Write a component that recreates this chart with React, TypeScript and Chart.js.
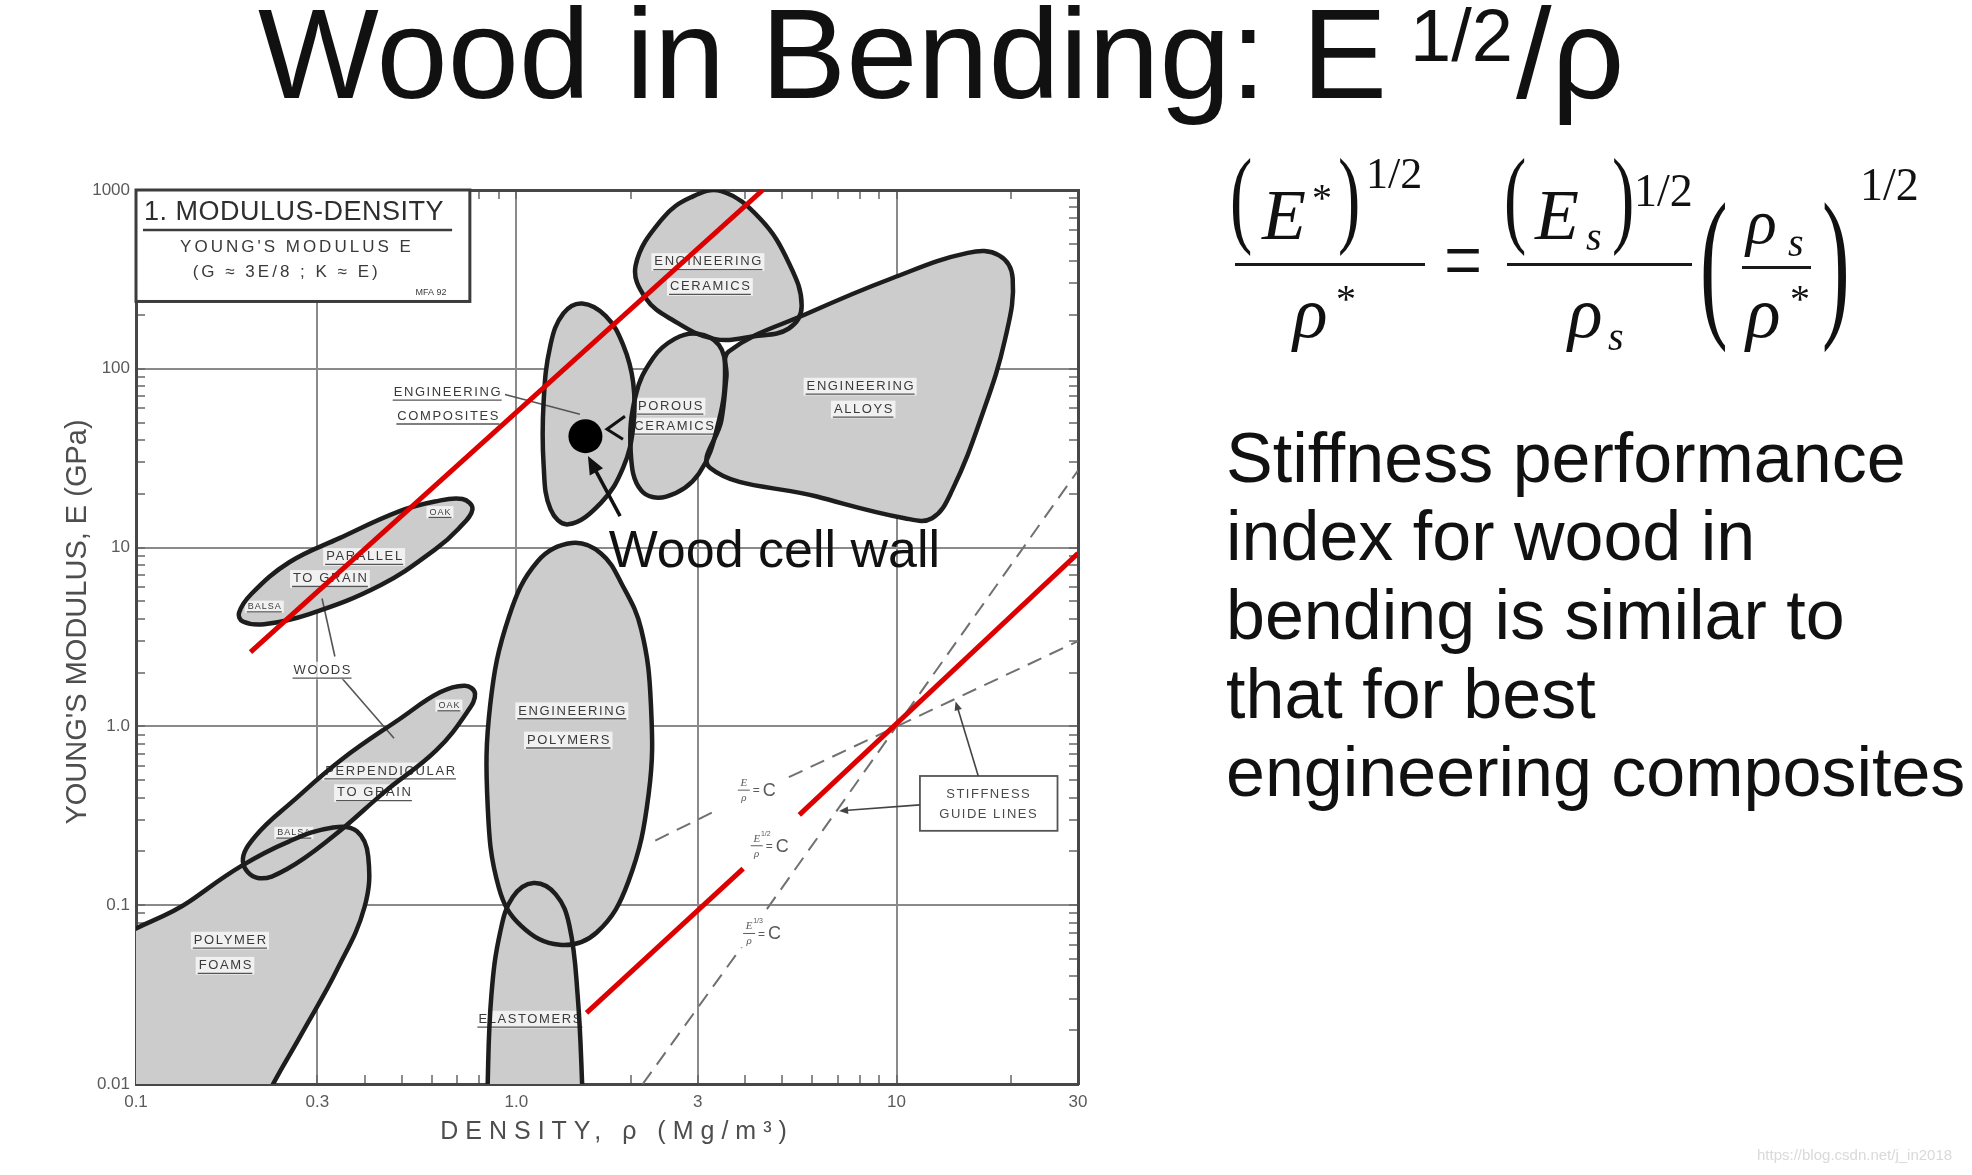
import React, { useEffect, useRef } from 'react';
import { Chart, registerables } from 'chart.js';

Chart.register(...registerables);

const W = 1972;
const H = 1175;
const SANS = '"Liberation Sans", Arial, Helvetica, sans-serif';
const SERIF = '"Liberation Serif", "Times New Roman", Times, serif';

// ---------------- axis ticks (density ρ in Mg/m³, Young's modulus E in GPa) ----------------
const xMajorTicks = [0.1, 0.3, 1, 3, 10, 30];
const xTickLabels = ['0.1', '0.3', '1.0', '3', '10', '30'];
const xGridValues = [0.3, 1, 3, 10];
const xMinorTicks = [0.2, 0.4, 0.5, 0.6, 0.7, 0.8, 0.9, 2, 4, 5, 6, 7, 8, 9, 20];

const yMajorTicks = [0.01, 0.1, 1, 10, 100, 1000];
const yTickLabels = ['0.01', '0.1', '1.0', '10', '100', '1000'];
const yGridValues = [0.1, 1, 10, 100];
const yMinorTicks = [
  0.02, 0.03, 0.04, 0.05, 0.06, 0.07, 0.08, 0.09,
  0.2, 0.3, 0.4, 0.5, 0.6, 0.7, 0.8, 0.9,
  2, 3, 4, 5, 6, 7, 8, 9,
  20, 30, 40, 50, 60, 70, 80, 90,
  200, 300, 400, 500, 600, 700, 800, 900,
];

// ---------------- material property regions: [density, modulus] ----------------
const engineeringAlloys = [
  [3.62, 125], [5.93, 207], [9.73, 321], [15.4, 445], [18.6, 431], [20.2, 321], [19.3, 147],
  [16.8, 55.5], [14.0, 20.9], [12.4, 14.6], [10.5, 14.6], [6.17, 19.3], [3.23, 28.0], [3.46, 51.2], [3.57, 90.4],
];
const engineeringCeramics = [
  [3.46, 985], [4.38, 690], [5.21, 391], [5.63, 225], [5.21, 168], [4.22, 152], [3.31, 147],
  [2.57, 188], [2.19, 248], [2.06, 378], [2.42, 690], [2.88, 910],
];
const porousCeramics = [
  [2.99, 157], [3.41, 136], [3.54, 98.1], [3.41, 51.2], [3.02, 25.9], [2.48, 19.3], [2.13, 20.9],
  [2.0, 34.1], [2.06, 70.8], [2.29, 115], [2.61, 147],
];
const engineeringComposites = [
  [1.49, 232], [1.72, 197], [1.91, 136], [2.03, 83.4], [2.03, 47.2], [1.91, 28.0], [1.67, 17.8],
  [1.37, 13.5], [1.23, 16.4], [1.18, 29.0], [1.18, 65.3], [1.23, 136], [1.33, 204],
];
const engineeringPolymers = [
  [1.4, 10.6], [1.67, 9.28], [1.9, 6.18], [2.13, 3.5], [2.26, 1.32], [2.23, 0.422], [1.97, 0.135],
  [1.63, 0.0706], [1.3, 0.06], [1.03, 0.0766], [0.9, 0.125], [0.841, 0.359], [0.854, 1.32], [0.957, 4.12], [1.14, 8.41],
];
const elastomers = [
  [1.11, 0.133], [1.27, 0.115], [1.38, 0.0766], [1.45, 0.0313], [1.49, 0.01], [1.5, 0.0052],
  [0.841, 0.0052], [0.841, 0.01], [0.86, 0.0313], [0.907, 0.0706], [0.979, 0.111],
];
const polymerFoams = [
  [0.0809, 0.0478], [0.1377, 0.1043], [0.188, 0.1644], [0.253, 0.2277], [0.33, 0.272], [0.381, 0.259],
  [0.408, 0.1874], [0.399, 0.0977], [0.3375, 0.0434], [0.273, 0.0192], [0.2206, 0.00853], [0.2013, 0.00524], [0.0809, 0.00524],
];
const woodsPerpendicular = [
  [0.191, 0.1756], [0.206, 0.243], [0.259, 0.383], [0.348, 0.655], [0.4936, 1.1], [0.63, 1.55], [0.733, 1.69],
  [0.779, 1.526], [0.745, 1.215], [0.6157, 0.734], [0.454, 0.436], [0.33, 0.243], [0.249, 0.159], [0.209, 0.142],
];
const woodsParallel = [
  [0.1866, 4.32], [0.2013, 5.52], [0.253, 8.28], [0.343, 11.3], [0.49, 15.9], [0.611, 18.1], [0.722, 18.7],
  [0.767, 16.4], [0.706, 12.8], [0.611, 9.74], [0.4406, 6.18], [0.2856, 4.25], [0.2173, 3.73], [0.191, 3.86],
];

// ---------------- performance-index lines ----------------
const redIndexUpper = [[0.2, 2.6], [4.45, 1000]];
const redIndexLowerA = [[1.53, 0.025], [3.95, 0.16]];
const redIndexLowerB = [[5.55, 0.32], [30, 9.3]];
const guideEoverRhoA = [[2.32, 0.23], [3.37, 0.34]];
const guideEoverRhoB = [[5.21, 0.52], [30, 3.0]];
const guideE13A = [[2.15, 0.01], [3.95, 0.06]];
const guideE13B = [[4.56, 0.095], [30, 27]];
const woodCellWall = [[1.52, 42]];

// ---------------- annotation anchors (data units) ----------------
const infoBox = [[0.1, 1000], [0.755, 238]];
const regionLabels = [
  { text: 'ENGINEERING', x: 3.19, y: 397 },
  { text: 'CERAMICS', x: 3.23, y: 288 },
  { text: 'ENGINEERING', x: 8.02, y: 79.8 },
  { text: 'ALLOYS', x: 8.17, y: 59.4 },
  { text: 'POROUS', x: 2.54, y: 61.7 },
  { text: 'CERAMICS', x: 2.6, y: 47.7 },
  { text: 'ENGINEERING', x: 0.658, y: 73.8 },
  { text: 'COMPOSITES', x: 0.661, y: 54.3 },
  { text: 'ENGINEERING', x: 1.4, y: 1.22 },
  { text: 'POLYMERS', x: 1.37, y: 0.837 },
  { text: 'ELASTOMERS', x: 1.086, y: 0.023 },
  { text: 'POLYMER', x: 0.1766, y: 0.0636 },
  { text: 'FOAMS', x: 0.1714, y: 0.046 },
  { text: 'WOODS', x: 0.3085, y: 2.06 },
  { text: 'PARALLEL', x: 0.398, y: 8.9 },
  { text: 'TO GRAIN', x: 0.3236, y: 6.7 },
  { text: 'PERPENDICULAR', x: 0.466, y: 0.562 },
  { text: 'TO GRAIN', x: 0.4225, y: 0.425 },
];
const smallLabels = [
  { text: 'BALSA', x: 0.2174, y: 4.68 },
  { text: 'OAK', x: 0.63, y: 15.8 },
  { text: 'OAK', x: 0.665, y: 1.31 },
  { text: 'BALSA', x: 0.26, y: 0.254 },
];
const leaderLines = [
  [[0.934, 71.9], [1.47, 55.7]],
  [[0.3334, 2.46], [0.3085, 5.19]],
  [[0.348, 1.86], [0.477, 0.859]],
];
const cellWallArrow = [[1.875, 15.0], [1.543, 32.5]];
const compositeChevron = [[1.931, 54.3], [1.732, 45.9], [1.908, 40.4]];
const stiffnessBox = [[11.52, 0.528], [26.5, 0.2606]];
const stiffnessArrows = [
  [[16.4, 0.528], [14.3, 1.38]],
  [[11.52, 0.364], [7.06, 0.3367]],
];
const guideLabels = [
  { exp: '', x: 4.29, y: 0.44 },
  { exp: '1/2', x: 4.64, y: 0.215 },
  { exp: '1/3', x: 4.43, y: 0.0695 },
];
const cellWallText = { text: 'Wood cell wall', x: 1.75, y: 7.8 };

const paragraphLines = [
  'Stiffness performance',
  'index for wood in',
  'bending is similar to',
  'that for best',
  'engineering composites',
];

const FILL = '#cbcccb';
const OUTLINE = '#1d1d1d';
const RED = '#dc0000';
const GUIDE = '#707070';
const GRID = '#8a8a8a';
const AXIS = '#474747';

const toXY = (pts: number[][]) => pts.map(([x, y]) => ({ x, y }));

const closedRegions = {
  id: 'closedRegions',
  afterDatasetsUpdate(chart: any) {
    chart.data.datasets.forEach((ds: any, i: number) => {
      if (!ds.closed) return;
      const line = chart.getDatasetMeta(i).dataset;
      if (!line) return;
      line._loop = true;
      line._fullLoop = true;
      delete line._segments;
      delete line._path;
      line._pointsUpdated = false;
    });
  },
};

function boxedLabel(ctx: any, text: string, x: number, y: number, size: number, spacing: number) {
  ctx.font = `${size}px ${SANS}`;
  ctx.letterSpacing = `${spacing}px`;
  const w = ctx.measureText(text).width - spacing;
  ctx.fillStyle = 'rgba(255,255,255,0.72)';
  ctx.fillRect(x - w / 2 - 3, y - size * 0.66, w + 6, size * 1.36);
  ctx.fillStyle = '#3a3a3a';
  ctx.textAlign = 'left';
  ctx.textBaseline = 'middle';
  ctx.fillText(text, x - w / 2, y);
  ctx.strokeStyle = '#555';
  ctx.lineWidth = 1.3;
  ctx.beginPath();
  ctx.moveTo(x - w / 2 - 1, y + size * 0.6);
  ctx.lineTo(x + w / 2 + 1, y + size * 0.6);
  ctx.stroke();
  ctx.letterSpacing = '0px';
}

function arrowLine(ctx: any, x1: number, y1: number, x2: number, y2: number, lw: number, head: number, color: string) {
  const a = Math.atan2(y2 - y1, x2 - x1);
  ctx.strokeStyle = color;
  ctx.fillStyle = color;
  ctx.lineWidth = lw;
  ctx.beginPath();
  ctx.moveTo(x1, y1);
  ctx.lineTo(x2 - Math.cos(a) * head * 0.6, y2 - Math.sin(a) * head * 0.6);
  ctx.stroke();
  ctx.beginPath();
  ctx.moveTo(x2, y2);
  ctx.lineTo(x2 - Math.cos(a) * head + Math.sin(a) * head * 0.42, y2 - Math.sin(a) * head - Math.cos(a) * head * 0.42);
  ctx.lineTo(x2 - Math.cos(a) * head - Math.sin(a) * head * 0.42, y2 - Math.sin(a) * head + Math.cos(a) * head * 0.42);
  ctx.closePath();
  ctx.fill();
}

const annotations = {
  id: 'ashbyAnnotations',
  beforeDatasetsDraw(chart: any) {
    const ctx = chart.ctx;
    const X = (v: number) => chart.scales.x.getPixelForValue(v);
    const Y = (v: number) => chart.scales.y.getPixelForValue(v);
    ctx.save();
    const bx1 = X(infoBox[0][0]);
    const by1 = Y(infoBox[0][1]);
    const bx2 = X(infoBox[1][0]);
    const by2 = Y(infoBox[1][1]);
    ctx.fillStyle = '#ffffff';
    ctx.fillRect(bx1, by1, bx2 - bx1, by2 - by1);
    ctx.strokeStyle = '#3c3c3c';
    ctx.lineWidth = 3;
    ctx.strokeRect(bx1, by1, bx2 - bx1, by2 - by1);
    ctx.fillStyle = '#2e2e2e';
    ctx.textBaseline = 'middle';
    ctx.textAlign = 'left';
    ctx.font = `27px ${SANS}`;
    ctx.letterSpacing = '0.5px';
    ctx.fillText('1. MODULUS-DENSITY', X(0.105), Y(745));
    ctx.lineWidth = 2.5;
    ctx.beginPath();
    ctx.moveTo(X(0.1043), Y(598));
    ctx.lineTo(X(0.678), Y(598));
    ctx.stroke();
    ctx.textAlign = 'center';
    ctx.font = `17px ${SANS}`;
    ctx.letterSpacing = '3px';
    ctx.fillStyle = '#3a3a3a';
    ctx.fillText("YOUNG'S MODULUS E", X(0.265), Y(475));
    ctx.fillText('(G ≈ 3E/8 ; K ≈ E)', X(0.249), Y(345));
    ctx.letterSpacing = '0px';
    ctx.font = `9px ${SANS}`;
    ctx.fillText('MFA 92', X(0.597), Y(267));

    ctx.strokeStyle = '#555';
    ctx.lineWidth = 1.6;
    leaderLines.forEach(([a, b]) => {
      ctx.beginPath();
      ctx.moveTo(X(a[0]), Y(a[1]));
      ctx.lineTo(X(b[0]), Y(b[1]));
      ctx.stroke();
    });
    regionLabels.forEach((l) => boxedLabel(ctx, l.text, X(l.x), Y(l.y), 13, 1.6));
    smallLabels.forEach((l) => boxedLabel(ctx, l.text, X(l.x), Y(l.y), 9, 1));
    ctx.restore();
  },
  afterDatasetsDraw(chart: any) {
    const ctx = chart.ctx;
    const X = (v: number) => chart.scales.x.getPixelForValue(v);
    const Y = (v: number) => chart.scales.y.getPixelForValue(v);
    ctx.save();
    const sx1 = X(stiffnessBox[0][0]);
    const sy1 = Y(stiffnessBox[0][1]);
    const sx2 = X(stiffnessBox[1][0]);
    const sy2 = Y(stiffnessBox[1][1]);
    ctx.fillStyle = '#fff';
    ctx.fillRect(sx1, sy1, sx2 - sx1, sy2 - sy1);
    ctx.strokeStyle = '#555';
    ctx.lineWidth = 1.8;
    ctx.strokeRect(sx1, sy1, sx2 - sx1, sy2 - sy1);
    ctx.fillStyle = '#4a4a4a';
    ctx.textAlign = 'center';
    ctx.textBaseline = 'middle';
    ctx.font = `13px ${SANS}`;
    ctx.letterSpacing = '1.5px';
    ctx.fillText('STIFFNESS', (sx1 + sx2) / 2, sy1 + (sy2 - sy1) * 0.33);
    ctx.fillText('GUIDE LINES', (sx1 + sx2) / 2, sy1 + (sy2 - sy1) * 0.7);
    ctx.letterSpacing = '0px';
    stiffnessArrows.forEach(([a, b]) => arrowLine(ctx, X(a[0]), Y(a[1]), X(b[0]), Y(b[1]), 1.6, 9, '#444'));

    guideLabels.forEach((g) => {
      const x = X(g.x);
      const y = Y(g.y);
      ctx.fillStyle = '#fff';
      ctx.fillRect(x - 24, y - 14, 50, 28);
      ctx.fillStyle = '#5a5a5a';
      ctx.strokeStyle = '#5a5a5a';
      ctx.textAlign = 'center';
      ctx.textBaseline = 'middle';
      ctx.font = `italic 11px ${SERIF}`;
      ctx.fillText('E', x - 13, y - 7);
      ctx.fillText('ρ', x - 13, y + 8);
      if (g.exp) {
        ctx.font = `7px ${SANS}`;
        ctx.fillText(g.exp, x - 4, y - 12);
      }
      ctx.lineWidth = 1;
      ctx.beginPath();
      ctx.moveTo(x - 19, y);
      ctx.lineTo(x - 7, y);
      ctx.stroke();
      ctx.textAlign = 'left';
      ctx.font = `12px ${SANS}`;
      ctx.fillText('=', x - 4, y + 1);
      ctx.font = `18px ${SANS}`;
      ctx.fillText('C', x + 6, y + 1);
    });

    arrowLine(ctx, X(cellWallArrow[0][0]), Y(cellWallArrow[0][1]), X(cellWallArrow[1][0]), Y(cellWallArrow[1][1]), 3.5, 18, '#111');
    ctx.strokeStyle = '#111';
    ctx.lineWidth = 3;
    ctx.beginPath();
    compositeChevron.forEach(([a, b], i) => (i ? ctx.lineTo(X(a), Y(b)) : ctx.moveTo(X(a), Y(b))));
    ctx.stroke();
    ctx.fillStyle = '#111';
    ctx.font = `52px ${SANS}`;
    ctx.textAlign = 'left';
    ctx.textBaseline = 'alphabetic';
    ctx.fillText(cellWallText.text, X(cellWallText.x), Y(cellWallText.y));
    ctx.restore();
  },
  afterDraw(chart: any) {
    const ctx = chart.ctx;
    const a = chart.chartArea;
    ctx.save();
    ctx.fillStyle = '#4e4e4e';
    ctx.textAlign = 'center';
    ctx.textBaseline = 'middle';
    ctx.font = `25px ${SANS}`;
    ctx.letterSpacing = '7px';
    ctx.fillText('DENSITY, ρ (Mg/m³)', (a.left + a.right) / 2 + 10, a.bottom + 48);
    ctx.letterSpacing = '0px';
    ctx.translate(a.left - 58, (a.top + a.bottom) / 2 - 15);
    ctx.rotate(-Math.PI / 2);
    ctx.font = `29px ${SANS}`;
    ctx.fillText("YOUNG'S MODULUS, E (GPa)", 0, 0);
    ctx.restore();
  },
};

function buildChart(canvas: HTMLCanvasElement) {
  const shapeStyle = {
    borderColor: OUTLINE,
    borderWidth: 4.5,
    backgroundColor: FILL,
    fill: 'shape',
    tension: 0.4,
    pointRadius: 0,
    closed: true,
    clip: 0,
  };
  const regions = [
    ['Engineering alloys', engineeringAlloys],
    ['Engineering ceramics', engineeringCeramics],
    ['Porous ceramics', porousCeramics],
    ['Engineering composites', engineeringComposites],
    ['Engineering polymers', engineeringPolymers],
    ['Elastomers', elastomers],
    ['Polymer foams', polymerFoams],
    ['Woods perpendicular to grain', woodsPerpendicular],
    ['Woods parallel to grain', woodsParallel],
  ] as [string, number[][]][];
  const datasets: any[] = regions.map(([label, pts]) => ({ label, data: toXY(pts), ...shapeStyle }));
  const guide = (label: string, pts: number[][]) => ({
    label, data: toXY(pts), borderColor: GUIDE, borderWidth: 2, borderDash: [15, 9], pointRadius: 0, fill: false, tension: 0, clip: 0,
  });
  const red = (label: string, pts: number[][]) => ({
    label, data: toXY(pts), borderColor: RED, borderWidth: 5, pointRadius: 0, fill: false, tension: 0, clip: 0,
  });
  datasets.push(guide('E/ρ = C', guideEoverRhoA));
  datasets.push(guide('E/ρ = C', guideEoverRhoB));
  datasets.push(guide('E^1/3/ρ = C', guideE13A));
  datasets.push(guide('E^1/3/ρ = C', guideE13B));
  datasets.push(red('E^1/2/ρ upper', redIndexUpper));
  datasets.push(red('E^1/2/ρ = C', redIndexLowerA));
  datasets.push(red('E^1/2/ρ = C', redIndexLowerB));
  datasets.push({
    label: 'Wood cell wall', data: toXY(woodCellWall), showLine: false, pointRadius: 17,
    pointBackgroundColor: '#000', pointBorderWidth: 0, fill: false,
  });
  datasets.forEach((d, i) => { d.order = -i; });

  const xTicksAll = [...xMajorTicks, ...xMinorTicks].sort((a, b) => a - b);
  const yTicksAll = [...yMajorTicks, ...yMinorTicks].sort((a, b) => a - b);
  const tickFont = { family: SANS, size: 17 };

  const axisCommon = (ticksAll: number[], gridVals: number[], majors: number[], labels: string[]) => ({
    type: 'logarithmic',
    afterBuildTicks: (s: any) => { s.ticks = ticksAll.map((v) => ({ value: v })); },
    ticks: {
      autoSkip: false, maxRotation: 0, minRotation: 0, font: tickFont, color: '#5a5a5a',
      callback: (v: number) => { const i = majors.indexOf(v); return i >= 0 ? labels[i] : ''; },
    },
    grid: {
      color: (c: any) => (c.tick && gridVals.includes(c.tick.value) ? GRID : 'rgba(0,0,0,0)'),
      lineWidth: 2, drawTicks: true, tickLength: -9, tickColor: '#666', tickWidth: 1.5,
    },
    border: { display: true, color: AXIS, width: 3 },
  });

  const xAxis: any = axisCommon(xTicksAll, xGridValues, xMajorTicks, xTickLabels);
  Object.assign(xAxis, { position: 'bottom', min: 0.1, max: 30 });
  xAxis.ticks.padding = 17;
  xAxis.afterFit = (s: any) => { s.height = H - 1084; s.paddingLeft = 0; s.paddingRight = 0; };

  const yAxis: any = axisCommon(yTicksAll, yGridValues, yMajorTicks, yTickLabels);
  Object.assign(yAxis, { position: 'left', min: 0.01, max: 1000 });
  yAxis.ticks.padding = 15;
  yAxis.afterFit = (s: any) => { s.width = 76; s.paddingTop = 0; s.paddingBottom = 0; };

  const x2: any = axisCommon(xTicksAll, [], xMajorTicks, xTickLabels);
  Object.assign(x2, { position: 'top', min: 0.1, max: 30 });
  x2.ticks.display = false;
  x2.grid.drawOnChartArea = false;
  x2.afterFit = (s: any) => { s.height = 20; s.paddingLeft = 0; s.paddingRight = 0; };

  const y2: any = axisCommon(yTicksAll, [], yMajorTicks, yTickLabels);
  Object.assign(y2, { position: 'right', min: 0.01, max: 1000 });
  y2.ticks.display = false;
  y2.grid.drawOnChartArea = false;
  y2.afterFit = (s: any) => { s.width = 20; s.paddingTop = 0; s.paddingBottom = 0; };

  return new Chart(canvas, {
    type: 'line',
    data: { datasets },
    options: {
      responsive: false,
      maintainAspectRatio: false,
      animation: false,
      events: [],
      layout: { padding: { left: 136 - 76, right: W - 1078 - 20, top: 190 - 20, bottom: 0 } },
      plugins: {
        legend: { display: false },
        tooltip: { enabled: false },
        filler: { drawTime: 'beforeDatasetsDraw', propagate: false },
      },
      scales: { x: xAxis, y: yAxis, x2, y2 },
    } as any,
    plugins: [closedRegions, annotations],
  } as any);
}

type GProps = { x: number; base: number; size: number; serif?: boolean; italic?: boolean; sx?: number; color?: string; children: React.ReactNode };
function G({ x, base, size, serif, italic, sx, color, children }: GProps) {
  const asc = serif ? 0.891 : 0.905;
  const desc = serif ? 0.216 : 0.212;
  const top = base - size * ((1 - asc - desc) / 2 + asc);
  return (
    <div
      style={{
        position: 'absolute', left: x, top, fontSize: size, lineHeight: `${size}px`, height: size,
        fontFamily: serif ? SERIF : SANS, fontStyle: italic ? 'italic' : 'normal', whiteSpace: 'pre',
        color: color || '#111', transform: sx ? `scaleX(${sx})` : undefined, transformOrigin: '0 0',
      }}
    >
      {children}
    </div>
  );
}
function Bar({ x1, x2, y }: { x1: number; x2: number; y: number }) {
  return <div style={{ position: 'absolute', left: x1, top: y - 1.5, width: x2 - x1, height: 3, background: '#1a1a1a' }} />;
}

export default function App() {
  const ref = useRef<HTMLCanvasElement>(null);
  useEffect(() => {
    if (!ref.current) return;
    const chart = buildChart(ref.current);
    return () => chart.destroy();
  }, []);
  return (
    <div style={{ position: 'absolute', left: 0, top: 0, width: W, height: H, overflow: 'hidden', background: '#fff' }}>
      <canvas ref={ref} width={W} height={H} style={{ position: 'absolute', left: 0, top: 0, width: W, height: H }} />
      <G x={258} base={98} size={128}>Wood in Bending: E</G>
      <G x={1410} base={62} size={74}>1/2</G>
      <G x={1516} base={98} size={128}>/ρ</G>

      <G x={1230} base={233} size={108} serif sx={0.62}>(</G>
      <G x={1262} base={239} size={72} serif italic>E</G>
      <G x={1312} base={211} size={40} serif>*</G>
      <G x={1338} base={233} size={108} serif sx={0.62}>)</G>
      <G x={1366} base={189} size={44} serif>1/2</G>
      <Bar x1={1235} x2={1425} y={264} />
      <G x={1293} base={337} size={72} serif italic>ρ</G>
      <G x={1336} base={312} size={40} serif>*</G>
      <G x={1444} base={291} size={90} serif sx={0.75}>=</G>
      <G x={1504} base={233} size={108} serif sx={0.62}>(</G>
      <G x={1535} base={239} size={72} serif italic>E</G>
      <G x={1586} base={250} size={40} serif italic>s</G>
      <G x={1612} base={233} size={108} serif sx={0.62}>)</G>
      <G x={1634} base={207} size={46} serif>1/2</G>
      <Bar x1={1507} x2={1692} y={264} />
      <G x={1568} base={337} size={72} serif italic>ρ</G>
      <G x={1608} base={350} size={40} serif italic>s</G>
      <G x={1700} base={317} size={166} serif sx={0.5}>(</G>
      <G x={1746} base={244} size={64} serif italic>ρ</G>
      <G x={1788} base={256} size={40} serif italic>s</G>
      <Bar x1={1742} x2={1811} y={267} />
      <G x={1746} base={337} size={72} serif italic>ρ</G>
      <G x={1790} base={312} size={40} serif>*</G>
      <G x={1822} base={317} size={166} serif sx={0.5}>)</G>
      <G x={1860} base={201} size={46} serif>1/2</G>

      {paragraphLines.map((t, i) => (
        <G key={i} x={1226} base={482 + i * 78.6} size={70}>{t}</G>
      ))}
      <G x={1757} base={1160} size={15} color="#d9d9d9">https://blog.csdn.net/j_in2018</G>
    </div>
  );
}
